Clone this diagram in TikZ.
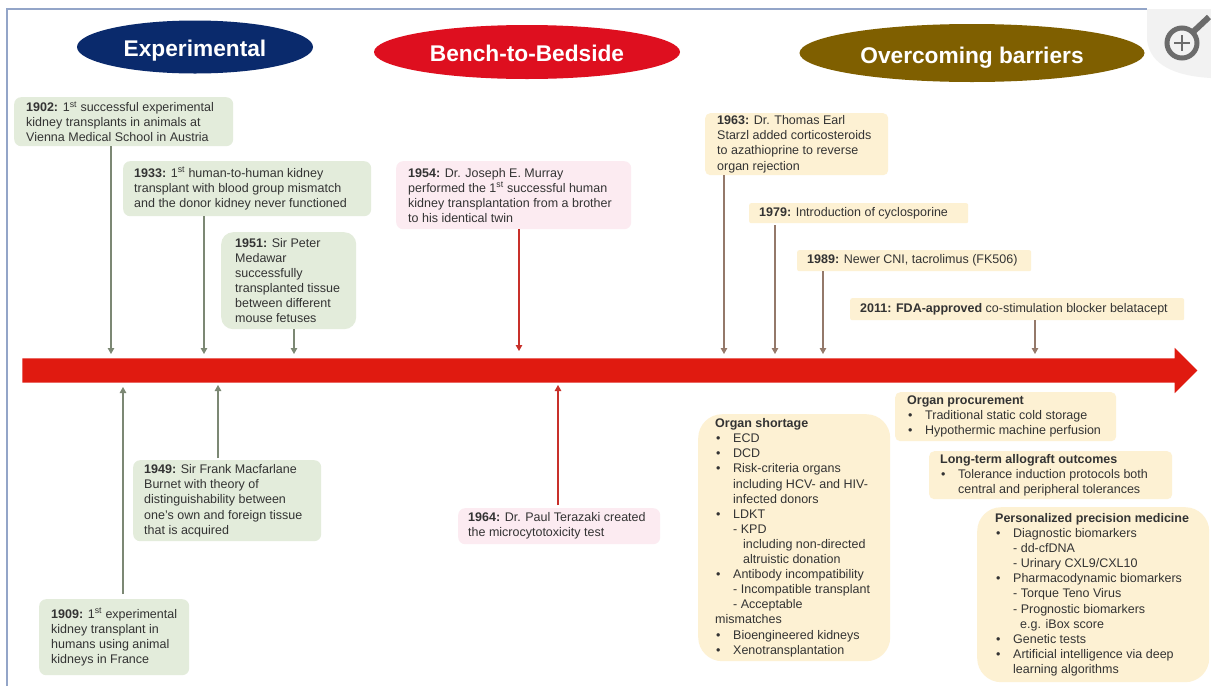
\documentclass[tikz,border=0pt]{standalone}
\usepackage{fontspec}
\setmainfont{Liberation Sans}
\usetikzlibrary{arrows.meta,shapes.geometric,shapes.arrows}
\definecolor{navy}{HTML}{0A2A6C}
\definecolor{brightred}{HTML}{DE0F1F}
\definecolor{olive}{HTML}{7F5F00}
\definecolor{linered}{HTML}{E01A10}
\definecolor{gbox}{HTML}{E3ECDB}
\definecolor{pbox}{HTML}{FCEBF1}
\definecolor{ybox}{HTML}{FDF1D3}
\definecolor{gline}{HTML}{7C8874}
\definecolor{rline}{HTML}{C8302A}
\definecolor{bline}{HTML}{94796A}
\definecolor{txt}{HTML}{333333}
\definecolor{frameblue}{HTML}{93A5C8}
\newcommand{\tbox}[8]{%
  \pgfmathsetmacro{\bw}{#4-#2}\pgfmathsetmacro{\bh}{#5-#3}%
  \node[txtbox,#7,minimum width=\bw pt,minimum height=\bh pt] (#1) at (#2,#3)
    {\makebox[\bw pt][l]{\hspace*{#6pt}\parbox[c]{600pt}{\raggedright #8}}};}
\newcommand{\bl}{\makebox[18pt][l]{\hspace*{1pt}•}}
\newcommand{\ind}{\hspace*{18pt}}
\newcommand{\yr}[1]{\textbf{#1:}}
\newcommand{\fst}{1\textsuperscript{st}}
\newcommand{\hdtxt}[2]{\raisebox{-#1pt}[0pt][0pt]{#2}}
\tikzset{
  txtbox/.style={anchor=north west,inner sep=0pt,text=txt,
    font=\fontsize{12.5}{15.1}\selectfont},
  gbx/.style={fill=gbox,rounded corners=7pt},
  pbx/.style={fill=pbox,rounded corners=7pt},
  ybx/.style={fill=ybox,rounded corners=5pt},
  head/.style={ellipse,inner sep=0pt,text=white,
    font=\fontsize{22.7}{26}\selectfont\bfseries},
  conn/.style={-{Triangle[length=6pt,width=6.5pt]},line width=1.1pt},
  gconn/.style={conn,draw=gline},
  rconn/.style={conn,draw=rline},
  bconn/.style={conn,draw=bline},
}
\begin{document}
\begin{tikzpicture}[x=1pt,y=-1pt]
\useasboundingbox (0,0) rectangle (1211,686);
\fill[white] (0,0) rectangle (1211,686);
\draw[frameblue,line width=1.4pt] (7,686) -- (7,9) -- (1147,9);
% zoom badge
\fill[gray!10] (1147,9) -- (1147,40) .. controls (1150,65) and (1175,76) .. (1211,78) -- (1211,9) -- cycle;
\draw[gray!85!black,line width=5pt] (1182,43) circle (15);
\draw[gray!85!black,line width=6pt] (1193,32) -- (1209,17);
\draw[gray!85!black,line width=2.6pt] (1174,43) -- (1190,43) (1182,35) -- (1182,51);
% headers
\node[head,fill=navy,minimum width=236pt,minimum height=53pt] (hexp) at (195,47) {\hdtxt{9}{Experimental}};
\node[head,fill=brightred,minimum width=306pt,minimum height=54pt] (hbench) at (527,52) {\hdtxt{9}{Bench-to-Bedside}};
\node[head,fill=olive,minimum width=345pt,minimum height=58pt] (hover) at (972,53) {\hdtxt{10}{Overcoming barriers}};
% timeline
\node[single arrow,fill=linered,inner sep=0pt,minimum height=1175pt,minimum width=45pt,
  single arrow head extend=10.5pt,single arrow head indent=0pt,anchor=west,
  shape border rotate=0] (timeline) at (22,370.5) {\rule{0pt}{24pt}};
% boxes
\tbox{b1902}{14}{97}{233}{146}{12}{gbx}{\yr{1902} \fst\ successful experimental\\kidney transplants in animals at\\Vienna Medical School in Austria}
\tbox{b1933}{123}{161}{371}{216}{11}{gbx}{\yr{1933} \fst\ human-to-human kidney\\transplant with blood group mismatch\\and the donor kidney never functioned}
\tbox{b1951}{221}{232}{356}{329}{14}{gbx,rounded corners=12pt}{\yr{1951} Sir Peter\\Medawar\\successfully\\transplanted tissue\\between different\\mouse fetuses}
\tbox{b1909}{39}{599}{189}{675}{12}{gbx}{\yr{1909} \fst\ experimental\\kidney transplant in\\humans using animal\\kidneys in France}
\tbox{b1949}{133}{460}{321}{541}{11}{gbx}{\yr{1949} Sir Frank Macfarlane\\Burnet with theory of\\distinguishability between\\one’s own and foreign tissue\\that is acquired}
\tbox{b1954}{396}{161}{631}{229}{12}{pbx}{\yr{1954} Dr. Joseph E. Murray\\performed the \fst\ successful human\\kidney transplantation from a brother\\to his identical twin}
\tbox{b1964}{458}{508}{660}{544}{10}{pbx}{\yr{1964} Dr. Paul Terazaki created\\the microcytotoxicity test}
\tbox{b1963}{705}{113}{888}{175}{12}{ybx}{\yr{1963} Dr. Thomas Earl\\Starzl added corticosteroids\\to azathioprine to reverse\\organ rejection}
\tbox{b1979}{749}{203}{968}{223}{10}{ybx,rounded corners=2pt}{\yr{1979} Introduction of cyclosporine}
\tbox{b1989}{797}{250}{1031}{271}{10}{ybx,rounded corners=2pt}{\yr{1989} Newer CNI, tacrolimus (FK506)}
\tbox{b2011}{850}{298}{1184}{320}{10}{ybx,rounded corners=2pt}{\yr{2011} \textbf{FDA-approved} co-stimulation blocker belatacept}
\tbox{bshort}{698}{414}{890}{661}{17}{ybx,rounded corners=24pt}{\textbf{Organ shortage}\\\bl ECD\\\bl DCD\\\bl Risk-criteria organs\\\ind including HCV- and HIV-\\\ind infected donors\\\bl LDKT\\\ind - KPD\\\ind\hspace*{10pt}including non-directed\\\ind\hspace*{10pt}altruistic donation\\\bl Antibody incompatibility\\\ind - Incompatible transplant\\\ind - Acceptable\\mismatches\\\bl Bioengineered kidneys\\\bl Xenotransplantation}
\tbox{bproc}{895}{392}{1116}{441}{12}{ybx}{\textbf{Organ procurement}\\\bl Traditional static cold storage\\\bl Hypothermic machine perfusion}
\tbox{blong}{929}{451}{1172}{499}{11}{ybx}{\textbf{Long-term allograft outcomes}\\\bl Tolerance induction protocols both\\\ind central and peripheral tolerances}
\tbox{bpers}{977}{507}{1209}{682}{18}{ybx,rounded corners=24pt}{\textbf{Personalized precision medicine}\\\bl Diagnostic biomarkers\\\ind - dd-cfDNA\\\ind - Urinary CXL9/CXL10\\\bl Pharmacodynamic biomarkers\\\ind - Torque Teno Virus\\\ind - Prognostic biomarkers\\\ind\hspace*{7pt}e.g. iBox score\\\bl Genetic tests\\\bl Artificial intelligence via deep\\\ind learning algorithms}
% connector ends on the timeline
\coordinate (t1902) at (111,354);
\coordinate (t1933) at (204,354);
\coordinate (t1951) at (294,354);
\coordinate (t1909) at (123,387);
\coordinate (t1949) at (218,385);
\coordinate (t1954) at (519,351);
\coordinate (t1964) at (558,385);
\coordinate (t1963) at (724,354);
\coordinate (t1979) at (775,354);
\coordinate (t1989) at (823,354);
\coordinate (t2011) at (1035,354);
\draw[gconn] (b1902.south -| t1902) -- (t1902);
\draw[gconn] (b1933.south -| t1933) -- (t1933);
\draw[gconn] (b1951.south -| t1951) -- (t1951);
\draw[gconn] ([yshift=5pt]b1909.north -| t1909) -- (t1909);
\draw[gconn] ([yshift=2pt]b1949.north -| t1949) -- (t1949);
\draw[rconn] (b1954.south -| t1954) -- (t1954);
\draw[rconn] ([yshift=3pt]b1964.north -| t1964) -- (t1964);
\draw[bconn] (b1963.south -| t1963) -- (t1963);
\draw[bconn] ([yshift=-2pt]b1979.south -| t1979) -- (t1979);
\draw[bconn] (b1989.south -| t1989) -- (t1989);
\draw[bconn] (b2011.south -| t2011) -- (t2011);
\end{tikzpicture}
\end{document}
